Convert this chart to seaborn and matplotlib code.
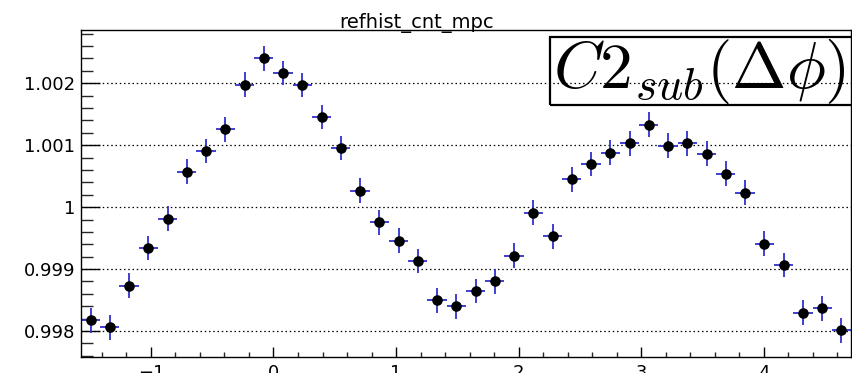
import numpy as np
import pandas as pd
import matplotlib
matplotlib.use("Agg")
import matplotlib.pyplot as plt
from matplotlib.patches import Rectangle
from matplotlib.ticker import MultipleLocator, FixedLocator, FuncFormatter
import seaborn as sns

# ---- data ----
n_bins = 40
x_low, x_high = -np.pi / 2, 3 * np.pi / 2
values = [0.998171, 0.998058, 0.998731, 0.999339, 0.999811, 1.000574, 1.000908, 1.001258,
          1.001977, 1.002403, 1.002166, 1.001973, 1.001456, 1.000956, 1.000268, 0.999752,
          0.999456, 0.999129, 0.998494, 0.998397, 0.998645, 0.998800, 0.999214, 0.999908,
          0.999526, 1.000450, 1.000698, 1.000881, 1.001032, 1.001332, 1.000994, 1.001032,
          1.000860, 1.000542, 1.000236, 0.999408, 0.999065, 0.998295, 0.998364, 0.998010]
errors = [0.0002] * n_bins
title = "refhist_cnt_mpc"
label = r"$C2_{sub}(\Delta\phi)$"
y_major = [0.998, 0.999, 1.0, 1.001, 1.002]
y_labels = ["0.998", "0.999", "1", "1.001", "1.002"]

edges = np.linspace(x_low, x_high, n_bins + 1)
centers = 0.5 * (edges[:-1] + edges[1:])
half_w = 0.5 * (edges[1] - edges[0])
df = pd.DataFrame({"dphi": centers, "c2": values, "err": errors})

sns.set_theme(style="white")
plt.rcParams["font.family"] = ["DejaVu Sans"]
plt.rcParams["mathtext.fontset"] = "cm"

W, H = 853, 373
fig = plt.figure(figsize=(W / 100, H / 100), dpi=100)
ax = fig.add_axes([81 / W, 16 / H, 770 / W, 327 / H])

ax.errorbar(df["dphi"], df["c2"], yerr=df["err"], xerr=half_w, fmt="none",
            ecolor="#3030cc", elinewidth=1.3, capsize=0, zorder=2)
sns.scatterplot(data=df, x="dphi", y="c2", ax=ax, color="black", s=58,
                edgecolor="black", linewidth=0, zorder=3, legend=False)

ax.set_xlim(x_low, x_high)
ax.set_ylim(0.99758, 1.00286)
ax.set_xlabel("")
ax.set_ylabel("")

ax.yaxis.set_major_locator(FixedLocator(y_major))
ax.yaxis.set_major_formatter(FuncFormatter(lambda v, p: dict(zip(y_major, y_labels)).get(round(v, 3), "")))
ax.yaxis.set_minor_locator(MultipleLocator(0.0002))
ax.xaxis.set_major_locator(MultipleLocator(1))
ax.xaxis.set_minor_locator(MultipleLocator(0.2))
ax.xaxis.set_major_formatter(FuncFormatter(lambda v, p: f"{int(round(v))}".replace("-", "\u2212")))

ax.tick_params(axis="y", which="major", direction="in", length=14, width=1, left=True,
               right=False, labelsize=13, pad=4, colors="black")
ax.tick_params(axis="y", which="minor", direction="in", length=8.5, width=1, left=True, right=False)
ax.tick_params(axis="x", which="major", direction="in", length=7, width=1, bottom=True,
               top=False, labelsize=13, pad=5, colors="black")
ax.tick_params(axis="x", which="minor", direction="in", length=3.6, width=1, bottom=True, top=False)

ax.yaxis.grid(True, which="major", linestyle=(0, (1.2, 2.2)), color="black", linewidth=0.9)
ax.xaxis.grid(False)
for s in ax.spines.values():
    s.set_color("black")
    s.set_linewidth(1.0)
ax.set_axisbelow(True)

fig.text(417 / W, 1 - 28 / H, title, ha="center", va="baseline", fontsize=14, color="black")

rect = Rectangle((550 / W, 1 - 105 / H), 330 / W, 68 / H, transform=fig.transFigure,
                 fill=False, edgecolor="black", linewidth=1.6, zorder=10)
fig.patches.append(rect)
fig.text(553 / W, 1 - 88 / H, label, ha="left", va="baseline", fontsize=47, color="black")

fig.savefig("out.png", dpi=100)
